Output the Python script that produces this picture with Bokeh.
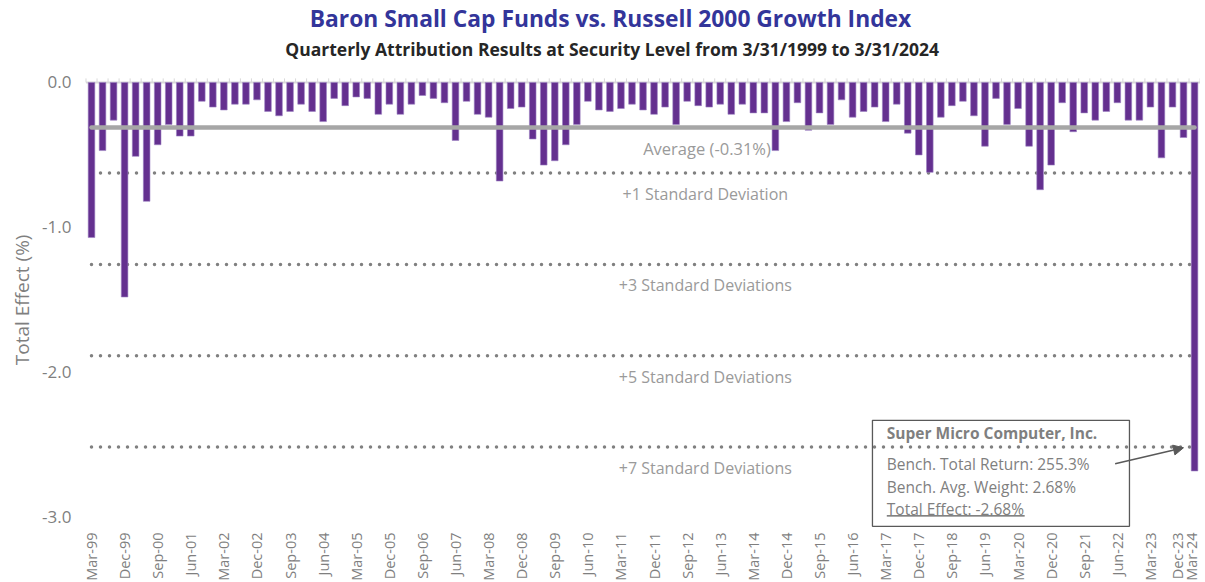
from math import pi
from bokeh.plotting import figure
from bokeh.models import Range1d, FixedTicker, Arrow, NormalHead
from bokeh.embed import file_html
from bokeh.resources import INLINE
from bokeh.core.properties import value

# ---------------- data ----------------
quarters = [
    "Mar-99", "Jun-99", "Sep-99", "Dec-99",
    "Mar-00", "Jun-00", "Sep-00", "Dec-00",
    "Mar-01", "Jun-01", "Sep-01", "Dec-01",
    "Mar-02", "Jun-02", "Sep-02", "Dec-02",
    "Mar-03", "Jun-03", "Sep-03", "Dec-03",
    "Mar-04", "Jun-04", "Sep-04", "Dec-04",
    "Mar-05", "Jun-05", "Sep-05", "Dec-05",
    "Mar-06", "Jun-06", "Sep-06", "Dec-06",
    "Mar-07", "Jun-07", "Sep-07", "Dec-07",
    "Mar-08", "Jun-08", "Sep-08", "Dec-08",
    "Mar-09", "Jun-09", "Sep-09", "Dec-09",
    "Mar-10", "Jun-10", "Sep-10", "Dec-10",
    "Mar-11", "Jun-11", "Sep-11", "Dec-11",
    "Mar-12", "Jun-12", "Sep-12", "Dec-12",
    "Mar-13", "Jun-13", "Sep-13", "Dec-13",
    "Mar-14", "Jun-14", "Sep-14", "Dec-14",
    "Mar-15", "Jun-15", "Sep-15", "Dec-15",
    "Mar-16", "Jun-16", "Sep-16", "Dec-16",
    "Mar-17", "Jun-17", "Sep-17", "Dec-17",
    "Mar-18", "Jun-18", "Sep-18", "Dec-18",
    "Mar-19", "Jun-19", "Sep-19", "Dec-19",
    "Mar-20", "Jun-20", "Sep-20", "Dec-20",
    "Mar-21", "Jun-21", "Sep-21", "Dec-21",
    "Mar-22", "Jun-22", "Sep-22", "Dec-22",
    "Mar-23", "Jun-23", "Sep-23", "Dec-23",
    "Mar-24",
]

total_effect = [
    -1.07, -0.47, -0.26, -1.48, -0.51, -0.82, -0.43, -0.29, -0.37, -0.37,
    -0.13, -0.17, -0.19, -0.15, -0.15, -0.12, -0.20, -0.23, -0.20, -0.15,
    -0.20, -0.27, -0.11, -0.16, -0.10, -0.11, -0.22, -0.15, -0.22, -0.15,
    -0.09, -0.11, -0.14, -0.40, -0.13, -0.22, -0.24, -0.68, -0.18, -0.17,
    -0.39, -0.57, -0.54, -0.43, -0.29, -0.13, -0.19, -0.20, -0.18, -0.15,
    -0.19, -0.22, -0.17, -0.29, -0.13, -0.16, -0.17, -0.15, -0.22, -0.15,
    -0.21, -0.21, -0.47, -0.27, -0.14, -0.33, -0.21, -0.29, -0.12, -0.24,
    -0.20, -0.17, -0.27, -0.15, -0.35, -0.50, -0.62, -0.24, -0.16, -0.13,
    -0.23, -0.44, -0.11, -0.29, -0.18, -0.44, -0.74, -0.57, -0.14, -0.34,
    -0.21, -0.26, -0.20, -0.14, -0.26, -0.26, -0.17, -0.52, -0.17, -0.38,
    -2.68,
]

labelled_quarters = list(range(0, 100, 3)) + [100]
# small nudges so the last two crowded labels do not overlap (as in the source)
label_nudge = {99: -0.5, 100: 0.3}

y_ticks = [0.0, -1.0, -2.0, -3.0]
y_tick_labels = ["0.0", "-1.0", "-2.0", "-3.0"]
y_axis_title = "Total Effect (%)"

average = -0.31
std_dev = 0.315
sd_multiples = [1, 3, 5, 7]
sd_labels = ["+1 Standard Deviation", "+3 Standard Deviations",
             "+5 Standard Deviations", "+7 Standard Deviations"]
average_label = "Average (-0.31%)"

title_text = "Baron Small Cap Funds vs. Russell 2000 Growth Index"
subtitle_text = "Quarterly Attribution Results at Security Level from 3/31/1999 to 3/31/2024"
callout_title = "Super Micro Computer, Inc."
callout_lines = ["Bench. Total Return: 255.3%", "Bench. Avg. Weight: 2.68%",
                 "Total Effect: -2.68%"]

# ---------------- styling ----------------
FONT = "Open Sans"
BAR = "#64308F"
GREY_TXT = "#7F7F7F"
LIGHT_TXT = "#9A9A9A"

idx = list(range(len(quarters)))
bounds = [i - 0.5 for i in idx] + [idx[-1] + 0.5]

p = figure(frame_width=1192, frame_height=519, output_backend="svg",
           toolbar_location=None,
           x_range=Range1d(-7.525, 100.54), y_range=Range1d(-3.07, 0.51),
           min_border_left=8, min_border_right=0, min_border_top=8,
           min_border_bottom=55, background_fill_color="white",
           border_fill_color="white", outline_line_color=None)
p.title.visible = False
p.xgrid.visible = False
p.ygrid.visible = False
p.yaxis.visible = False

# bottom axis with quarter labels
tick_pos = [i + label_nudge.get(i, 0) for i in labelled_quarters]
xa = p.xaxis[0]
xa.ticker = FixedTicker(ticks=tick_pos)
xa.major_label_overrides = {t: quarters[i] for t, i in zip(tick_pos, labelled_quarters)}
xa.major_label_orientation = pi / 2
xa.axis_line_color = None
xa.major_tick_line_color = None
xa.minor_tick_line_color = None
xa.major_tick_out = 0
xa.major_tick_in = 0
xa.axis_label = None
xa.major_label_standoff = 5
xa.major_label_text_font = FONT
xa.major_label_text_font_size = "14.5px"
xa.major_label_text_color = GREY_TXT

# y tick labels and axis title
p.text(x=[-1.82] * len(y_ticks), y=y_ticks, text=y_tick_labels, text_align="right",
       text_baseline="middle", text_font=value(FONT), text_font_size="17px",
       text_color=GREY_TXT)
p.text(x=[-6.26], y=[-1.50], text=[y_axis_title], angle=pi / 2, text_align="center",
       text_baseline="middle", text_font=value(FONT), text_font_size="19px",
       text_color=GREY_TXT)

# zero line with category tick marks
p.line(x=[bounds[0], bounds[-1]], y=[0, 0], line_color="#D9D9D9", line_width=2)
p.segment(x0=bounds, y0=[0] * len(bounds), x1=bounds, y1=[0.028] * len(bounds),
          line_color="#D9D9D9", line_width=1)

# dotted standard deviation lines
for m in sd_multiples:
    yv = average - m * std_dev
    p.line(x=[idx[0], idx[-1]], y=[yv, yv], line_color="#808080", line_width=3.5,
           line_dash="0 9", line_cap="round")

p.text(x=[55.65] * len(sd_multiples),
       y=[average - m * std_dev for m in sd_multiples],
       text=sd_labels, y_offset=21, text_align="center", text_baseline="middle",
       text_font=value(FONT), text_font_size="16px", text_color=LIGHT_TXT)

# bars
p.vbar(x=idx, top=0, bottom=total_effect, width=0.6, fill_color=BAR,
       line_color="#9C82C2", line_width=0.6)

# average line
p.line(x=[idx[0], idx[-1]], y=[average, average], line_color="#A6A6A6",
       line_width=4.5, line_cap="round")
p.text(x=[55.8], y=[average], text=[average_label], y_offset=21,
       text_align="center", text_baseline="middle", text_font=value(FONT),
       text_font_size="16.5px", text_color=LIGHT_TXT)

# titles
p.text(x=[47.05], y=[0.442], text=[title_text], text_align="center",
       text_baseline="middle", text_font=value(FONT), text_font_size="22.8px",
       text_font_style="bold", text_color="#33359A")
p.text(x=[47.2], y=[0.228], text=[subtitle_text], text_align="center",
       text_baseline="middle", text_font=value(FONT), text_font_size="17.5px",
       text_font_style="bold", text_color="#262626")

# callout box
p.quad(left=[70.8], right=[94.1], top=[-2.331], bottom=[-3.062], fill_color=None,
       line_color="#595959", line_width=1.3)
p.text(x=[72.1], y=[-2.42], text=[callout_title], text_baseline="middle",
       text_font=value(FONT), text_font_size="15.5px", text_font_style="bold",
       text_color=GREY_TXT)
p.text(x=[72.1] * 3, y=[-2.63, -2.79, -2.94], text=callout_lines,
       text_baseline="middle", text_font=value(FONT), text_font_size="15.5px",
       text_color=GREY_TXT)
p.line(x=[72.1, 84.6], y=[-2.99, -2.99], line_color="#595959", line_width=1.2)

p.add_layout(Arrow(end=NormalHead(size=10, fill_color="#595959", line_color="#595959"),
                   x_start=92.8, y_start=-2.63, x_end=99.0, y_end=-2.52,
                   line_color="#595959", line_width=1.5))

open("out.html", "w").write(file_html(p, INLINE))
